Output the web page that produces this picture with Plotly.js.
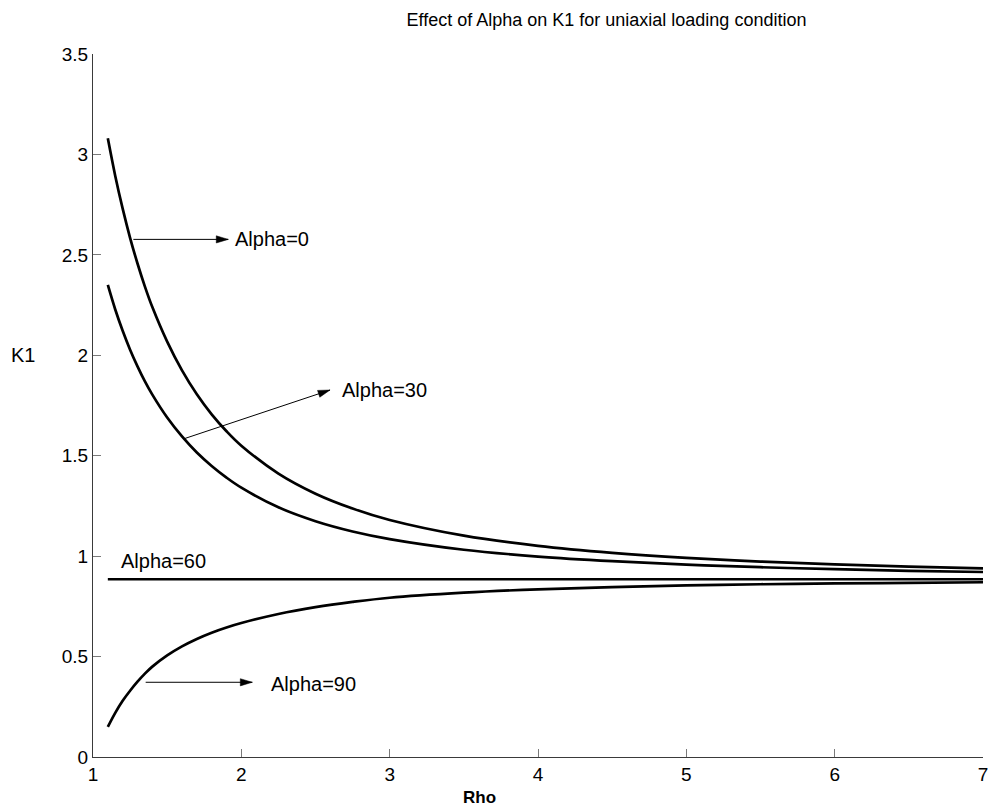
<!DOCTYPE html>
<html>
<head>
<meta charset="utf-8">
<script src="https://cdn.plot.ly/plotly-3.0.1.min.js"></script>
<style>
  html, body { margin: 0; padding: 0; background: #ffffff; }
  #chart { width: 990px; height: 808px; }
</style>
</head>
<body>
<div id="chart"></div>
<script>
// Rho values at which K1 is sampled
const rho = [1.10, 1.15, 1.20, 1.25, 1.30, 1.35, 1.40, 1.50, 1.60, 1.70, 1.80, 1.90, 2.00,
             2.25, 2.50, 2.75, 3.00, 3.50, 4.00, 4.50, 5.00, 5.50, 6.00, 6.50, 7.00];

// K1 for each loading angle
const k1Alpha0  = [3.080, 2.893, 2.730, 2.585, 2.457, 2.342, 2.240, 2.068, 1.925, 1.806, 1.706, 1.622, 1.550,
                   1.411, 1.311, 1.237, 1.180, 1.102, 1.051, 1.016, 0.991, 0.973, 0.959, 0.948, 0.939];
const k1Alpha30 = [2.350, 2.228, 2.122, 2.028, 1.945, 1.870, 1.804, 1.690, 1.596, 1.516, 1.449, 1.391, 1.341,
                   1.243, 1.174, 1.123, 1.085, 1.032, 0.998, 0.975, 0.958, 0.945, 0.935, 0.927, 0.921];
const k1Alpha60 = [0.885, 0.885, 0.885, 0.885, 0.885, 0.885, 0.885, 0.885, 0.885, 0.885, 0.885, 0.885, 0.885,
                   0.885, 0.885, 0.885, 0.885, 0.885, 0.885, 0.885, 0.885, 0.885, 0.885, 0.885, 0.885];
const k1Alpha90 = [0.150, 0.220, 0.280, 0.330, 0.375, 0.415, 0.450, 0.506, 0.551, 0.588, 0.619, 0.645, 0.667,
                   0.712, 0.746, 0.772, 0.793, 0.818, 0.835, 0.846, 0.854, 0.860, 0.864, 0.867, 0.870];

// Axis ticks
const xTickVals = [1, 2, 3, 4, 5, 6, 7];
const xTickText = ['1', '2', '3', '4', '5', '6', '7'];
const yTickVals = [0, 0.5, 1, 1.5, 2, 2.5, 3, 3.5];
const yTickText = ['0', '0.5', '1', '1.5', '2', '2.5', '3', '3.5'];

const FONT = 'Liberation Sans, Arial, Helvetica, sans-serif';

function curve(y) {
  return {
    x: rho, y: y, type: 'scatter', mode: 'lines',
    line: { color: '#000000', width: 2.7, shape: 'spline', smoothing: 1 },
    hoverinfo: 'skip'
  };
}

const traces = [curve(k1Alpha0), curve(k1Alpha30), curve(k1Alpha60), curve(k1Alpha90)];

// Arrow: thin shaft in data space plus a narrow filled head sized in pixels
function arrowShapes(x0, y0, x1, y1, angleDeg) {
  const a = angleDeg * Math.PI / 180;
  const L = 12, W = 3.6;
  const ux = Math.cos(a), uy = Math.sin(a);
  const px = -uy, py = ux;
  const bx = -L * ux, by = -L * uy;
  const p1 = [bx + W * px, by + W * py];
  const p2 = [bx - W * px, by - W * py];
  const headPath = 'M0,0 L' + p1[0].toFixed(2) + ',' + p1[1].toFixed(2) +
                   ' L' + p2[0].toFixed(2) + ',' + p2[1].toFixed(2) + ' Z';
  return [
    {
      type: 'line', xref: 'x', yref: 'y', x0: x0, y0: y0, x1: x1, y1: y1,
      line: { color: '#000000', width: 1 }
    },
    {
      type: 'path', xref: 'x', yref: 'y', xsizemode: 'pixel', ysizemode: 'pixel',
      xanchor: x1, yanchor: y1, path: headPath,
      fillcolor: '#000000', line: { color: '#000000', width: 0.5 }
    }
  ];
}

function label(text, x, y) {
  return {
    x: x, y: y, xref: 'x', yref: 'y', text: text, showarrow: false,
    xanchor: 'left', yanchor: 'middle',
    font: { family: FONT, size: 20, color: '#000000' }
  };
}

const axisCommon = {
  showline: true, linecolor: '#3a3a3a', linewidth: 1,
  ticks: 'inside', ticklen: 8, tickwidth: 1, tickcolor: '#7a7a7a',
  showgrid: false, zeroline: false, mirror: false,
  tickfont: { family: FONT, size: 19, color: '#000000' }
};

const shapes = [].concat(
  arrowShapes(1.272, 2.577, 1.912, 2.577, 0),
  arrowShapes(1.620, 1.586, 2.598, 1.827, 18.4),
  arrowShapes(1.355, 0.372, 2.074, 0.372, 0)
);

const layout = {
  width: 990, height: 808,
  margin: { l: 93, r: 7, t: 54, b: 51 },
  paper_bgcolor: '#ffffff', plot_bgcolor: '#ffffff',
  showlegend: false,
  title: {
    text: 'Effect of Alpha on K1 for uniaxial loading condition',
    x: 0.6126, xanchor: 'center', xref: 'container',
    y: 0.9752, yanchor: 'middle', yref: 'container',
    font: { family: FONT, size: 18, color: '#000000' }
  },
  xaxis: Object.assign({}, axisCommon, {
    range: [1, 7], tickvals: xTickVals, ticktext: xTickText
  }),
  yaxis: Object.assign({}, axisCommon, {
    range: [0, 3.5], tickvals: yTickVals, ticktext: yTickText
  }),
  shapes: shapes,
  annotations: [
    label('Alpha=0', 1.945, 2.577),
    label('Alpha=30', 2.665, 1.827),
    label('Alpha=60', 1.172, 0.975),
    label('Alpha=90', 2.186, 0.363),
    {
      x: -0.0787, y: 2.0, xref: 'paper', yref: 'y', text: 'K1', showarrow: false,
      xanchor: 'center', yanchor: 'middle',
      font: { family: FONT, size: 20, color: '#000000' }
    },
    {
      x: 0.434, y: -0.0569, xref: 'paper', yref: 'paper', text: '<b>Rho</b>', showarrow: false,
      xanchor: 'center', yanchor: 'middle',
      font: { family: FONT, size: 17, color: '#000000' }
    }
  ]
};

Plotly.newPlot('chart', traces, layout, { displayModeBar: false, staticPlot: true });
</script>
</body>
</html>
